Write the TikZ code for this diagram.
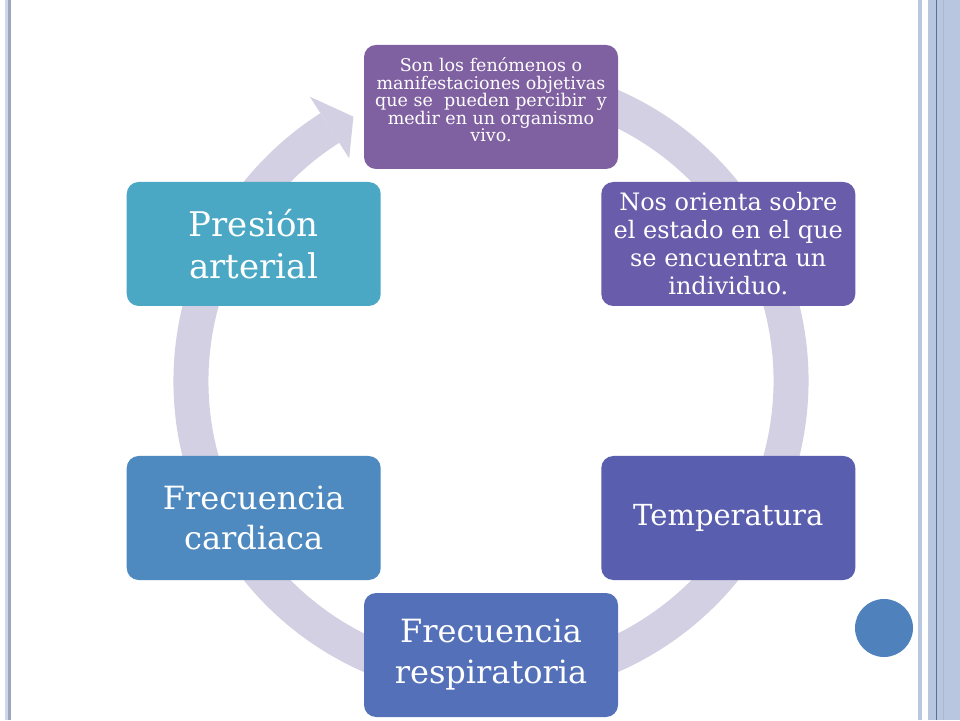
\documentclass[tikz,border=0pt]{standalone}
\usepackage{fontspec}
\setmainfont{DejaVu Serif}
\usetikzlibrary{positioning,calc}

\definecolor{ringgray}{HTML}{D2D0E2}
\definecolor{cyclea}{HTML}{7F60A0}
\definecolor{cycleb}{HTML}{695CAA}
\definecolor{cyclec}{HTML}{5A5EAF}
\definecolor{cycled}{HTML}{5470B9}
\definecolor{cyclee}{HTML}{4E8AC0}
\definecolor{cyclef}{HTML}{4AA8C4}
\definecolor{stripe}{HTML}{B9C6E0}
\definecolor{stripedark}{HTML}{5B6E9F}
\definecolor{dotblue}{HTML}{4F81BD}

\begin{document}
\begin{tikzpicture}[
      x=1pt, y=1pt,
      box/.style = {
        rectangle,
        rounded corners=12,
        minimum width=254,
        minimum height=124,
        inner sep=0,
        text=white,
        align=center
      },
      ring/.style = {
        draw=ringgray,
        line width=35
      }
    ]
    \useasboundingbox[fill=white] (0,0) rectangle (960,720);

    % page borders
    \fill[stripe!70!white] (5,0) rectangle (8,720);
    \fill[stripe!85!black] (8,0) rectangle (11,720);
    \fill[stripe] (917.5,0) rectangle (922,720);
    \fill[stripe] (928,0) rectangle (960,720);
    \fill[stripedark] (935.7,0) rectangle (936.7,720);
    \fill[stripe!92!black] (943,0) rectangle (944,720);
    \fill[dotblue] (884,92) circle (29);

    % cycle arrow
    \coordinate (c) at (491,339);
    \draw[ring] (c) ++(80:300) arc[start angle=80, end angle=-237.5, radius=300];
    \fill[ringgray, shift={(c)}] (122.5:337) -- (117.5:298) -- (122.5:264) -- cycle;

    % boxes
    \node[box, fill=cyclea, text depth=14, font=\fontsize{17.5}{17.5}\selectfont] (def)
      at ($(c)+(90:274)$)
      {Son los fenómenos o\\manifestaciones objetivas\\que se \ pueden percibir \ y\\
       medir en un organismo\\vivo.};
    \node[box, fill=cycleb, font=\fontsize{24}{28}\selectfont] (estado)
      at ($(c)+(30:274)$)
      {Nos orienta sobre\\el estado en el que\\se encuentra un\\individuo.};
    \node[box, fill=cyclec, font=\fontsize{29}{35}\selectfont] (temp)
      at ($(c)+(-30:274)$) {Temperatura};
    \node[box, fill=cycled, font=\fontsize{32}{41}\selectfont] (resp)
      at ($(c)+(-90:274)$) {Frecuencia\\respiratoria};
    \node[box, fill=cyclee, font=\fontsize{32}{40}\selectfont] (card)
      at ($(c)+(-150:274)$) {Frecuencia\\cardiaca};
    \node[box, fill=cyclef, font=\fontsize{34}{42}\selectfont] (pres)
      at ($(c)+(150:274)$) {Presión\\arterial};
  \end{tikzpicture}
\end{document}
